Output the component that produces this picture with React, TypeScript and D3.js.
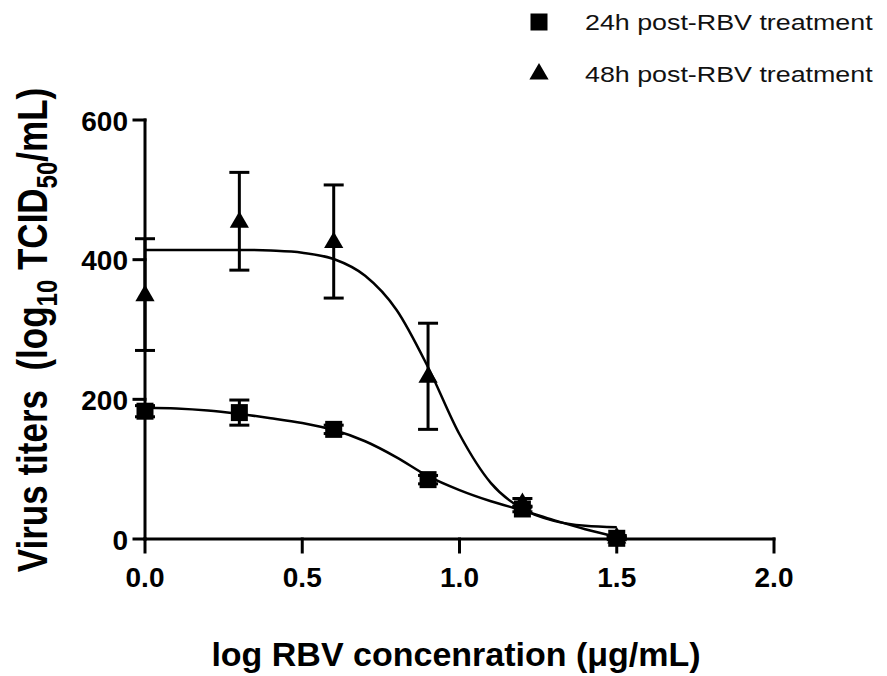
import React from 'react';
import * as d3 from 'd3';

// mean titers
const doses = [0, 0.3, 0.6, 0.9, 1.2, 1.5];
const titers24 = [183, 181, 157, 85, 43, 1];
const sem24 = [8, 18, 6, 6, 4, 2];
const titers48 = [350, 455, 426, 233, 52, 3];
const sem48 = [80, 70, 81, 76, 6, 2];

// fitted dose-response curves, sampled from the figure
const curveX = [0, 0.1, 0.2, 0.3, 0.4, 0.5, 0.6, 0.7, 0.8, 0.9, 1.0, 1.1, 1.2, 1.3, 1.4, 1.5];
const curve24 = [188, 187, 184, 179, 173, 166, 156, 140, 117, 90, 70, 54, 41, 27, 14, 3];
const curve48 = [414, 414, 414, 414, 413, 410, 401, 377, 328, 246, 150, 80, 43, 26, 19, 17];

const xTicks = [0, 0.5, 1.0, 1.5, 2.0];
const yTicks = [0, 200, 400, 600];

const legendLabels = ['24h post-RBV treatment', '48h post-RBV treatment'];

const W = 887;
const H = 676;
const font = '"Liberation Sans", Arial, sans-serif';

export default function App() {
  const x = d3.scaleLinear().domain([0, 2]).range([145, 774]);
  const y = d3.scaleLinear().domain([0, 600]).range([539, 120]);

  const line = d3.line<number>()
    .x((d, i) => x(curveX[i]))
    .y(d => y(d))
    .curve(d3.curveMonotoneX);

  const tri = d3.symbol().type(d3.symbolTriangle).size(160)();
  const sq = 17;

  const errorBars = (vals: number[], errs: number[]) =>
    vals.map((v, i) => {
      const cx = x(doses[i]);
      const top = y(v + errs[i]);
      const bot = y(v - errs[i]);
      return (
        <g key={i} stroke="#000" strokeWidth={3}>
          <line x1={cx} x2={cx} y1={top} y2={bot} />
          <line x1={cx - 10} x2={cx + 10} y1={top} y2={top} />
          <line x1={cx - 10} x2={cx + 10} y1={bot} y2={bot} />
        </g>
      );
    });

  return (
    <svg width={W} height={H} style={{ position: 'absolute', left: 0, top: 0, background: '#fff' }}
      fontFamily={font}>
      {/* curves */}
      <path d={line(curve48) || ''} fill="none" stroke="#000" strokeWidth={2.5} />
      <path d={line(curve24) || ''} fill="none" stroke="#000" strokeWidth={2.5} />

      {errorBars(titers48, sem48)}
      {errorBars(titers24, sem24)}

      {titers48.map((v, i) => (
        <path key={'t' + i} d={tri || ''} transform={`translate(${x(doses[i])},${y(v) + 1})`} fill="#000" />
      ))}
      {titers24.map((v, i) => (
        <rect key={'s' + i} x={x(doses[i]) - sq / 2} y={y(v) - sq / 2} width={sq} height={sq} fill="#000" />
      ))}

      {/* axes */}
      <g stroke="#000" strokeWidth={3} strokeLinecap="square">
        <line x1={x(0)} x2={x(0)} y1={y(600)} y2={y(0)} />
        <line x1={x(0)} x2={x(2)} y1={y(0)} y2={y(0)} />
        {yTicks.map(t => (
          <line key={t} x1={x(0) - 11} x2={x(0)} y1={y(t)} y2={y(t)} />
        ))}
        {xTicks.map(t => (
          <line key={t} x1={x(t)} x2={x(t)} y1={y(0)} y2={y(0) + 13} />
        ))}
      </g>
      <g fontWeight="bold" fontSize={28} fill="#000">
        {yTicks.map(t => (
          <text key={t} x={x(0) - 17} y={y(t) + 1} textAnchor="end" dominantBaseline="central">{t}</text>
        ))}
        {xTicks.map(t => (
          <text key={t} x={x(t)} y={587} textAnchor="middle">{d3.format('.1f')(t)}</text>
        ))}
      </g>

      {/* axis titles */}
      <text x={456} y={666} textAnchor="middle" fontWeight="bold" fontSize={34}>
        log RBV concenration (μg/mL)
      </text>
      <text transform="translate(47,330) scale(1.22,1) rotate(-90)" textAnchor="middle" fontWeight="bold" fontSize={35}
        style={{ whiteSpace: 'pre' }}>
        {'Virus titers  (log'}
        <tspan dy={8} fontSize={24}>10</tspan>
        <tspan dy={-8}>{' TCID'}</tspan>
        <tspan dy={8} fontSize={24}>50</tspan>
        <tspan dy={-8}>/mL)</tspan>
      </text>

      {/* legend */}
      <rect x={539 - sq / 2} y={22 - sq / 2} width={sq} height={sq} fill="#000" />
      <path d={tri || ''} transform="translate(539,74)" fill="#000" />
      {legendLabels.map((l, i) => (
        <text key={l} transform={`translate(585,${22 + i * 52}) scale(1.22,1)`} dominantBaseline="central"
          fontSize={22} fill="#111">{l}</text>
      ))}
    </svg>
  );
}
